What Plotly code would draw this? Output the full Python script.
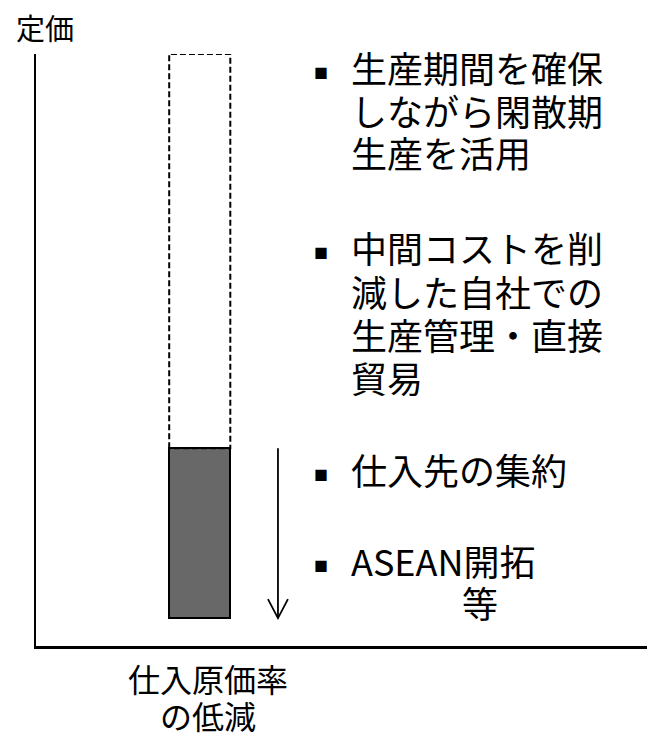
import plotly.graph_objects as go

# ---- data ----
category_lines = ["仕入原価率", "の低減"]
axis_title = "定価"
list_price = [100.0]      # 定価 (dashed bar top)
reduced_cost = [33.4]     # 仕入原価率低減後 (solid bar top)
bar_base = [4.7]          # bars start slightly above the axis
bullet_groups = [
    ["生産期間を確保", "しながら閑散期", "生産を活用"],
    ["中間コストを削", "減した自社での", "生産管理・直接", "貿易"],
    ["仕入先の集約"],
    ["ASEAN開拓"],
]
trailing_text = "等"

# ---- layout constants (pixels) ----
FW, FH = 647, 736
L, R, T, B = 36, 647, 54, 646
PW, PH = R - L, B - T
FONT = "Noto Sans CJK JP"

def px(xp):
    return (xp - L) / PW

def py(yp):
    return (B - yp) / PH

bar_x = 2.68
bar_w = 1.0
arrow_x = 3.96

fig = go.Figure()

# solid bar (reduced cost)
fig.add_trace(go.Bar(
    x=[bar_x], y=[reduced_cost[0] - bar_base[0]], base=bar_base, width=bar_w,
    marker=dict(color="#686868", line=dict(color="black", width=2)),
    hoverinfo="skip", showlegend=False,
))

# dashed outline (list price)
x0, x1 = bar_x - bar_w / 2, bar_x + bar_w / 2
fig.add_trace(go.Scatter(
    x=[x0, x0, x1, x1, x0],
    y=[reduced_cost[0], list_price[0], list_price[0], reduced_cost[0], reduced_cost[0]],
    mode="lines", line=dict(color="black", width=2, dash="6px,3px"),
    cliponaxis=False, hoverinfo="skip", showlegend=False,
))

# down arrow
fig.add_shape(type="line", x0=arrow_x, x1=arrow_x, y0=reduced_cost[0], y1=bar_base[0],
              line=dict(color="black", width=1.8))
fig.add_shape(type="path", xsizemode="pixel", ysizemode="pixel",
              xanchor=arrow_x, yanchor=bar_base[0],
              path="M-10,19 L0,0 L10,19", line=dict(color="black", width=1.8))

annotations = []
# axis title
annotations.append(dict(text=axis_title, x=px(14), y=py(27), xanchor="left", yanchor="middle",
                        height=32, font=dict(size=29, color="black", family=FONT)))

# bullet texts
group_centers = [[67, 109.5, 152], [247, 290.5, 334, 377.5], [469], [560]]
for lines, centers in zip(bullet_groups, group_centers):
    annotations.append(dict(text="■", x=px(321), y=py(centers[0] + 5), xanchor="center",
                            yanchor="middle", font=dict(size=14, color="black", family=FONT)))
    for line, c in zip(lines, centers):
        annotations.append(dict(text=line, x=px(349), y=py(c), xanchor="left", yanchor="middle",
                                height=40, font=dict(size=36, color="black", family=FONT)))
annotations.append(dict(text=trailing_text, x=px(480), y=py(602), xanchor="center", yanchor="middle",
                        height=40, font=dict(size=36, color="black", family=FONT)))

# category label
for line, c in zip(category_lines, [678, 715]):
    annotations.append(dict(text=line, x=px(208), y=py(c), xanchor="center", yanchor="middle",
                            height=36, font=dict(size=32, color="black", family=FONT)))

for a in annotations:
    a.update(xref="paper", yref="paper", showarrow=False)

fig.update_layout(
    width=FW, height=FH,
    margin=dict(l=L, r=FW - R, t=T, b=FH - B, pad=0),
    paper_bgcolor="white", plot_bgcolor="white",
    annotations=annotations,
    xaxis=dict(range=[0, 10], showgrid=False, zeroline=False, showticklabels=False,
               ticks="", showline=True, linecolor="black", linewidth=2.5, mirror=False),
    yaxis=dict(range=[0, 100], showgrid=False, zeroline=False, showticklabels=False,
               ticks="", showline=True, linecolor="black", linewidth=2, mirror=False),
    bargap=0,
)

fig.write_html("out.html", config={"displayModeBar": False},
               post_script="document.body.style.margin='0px';")
